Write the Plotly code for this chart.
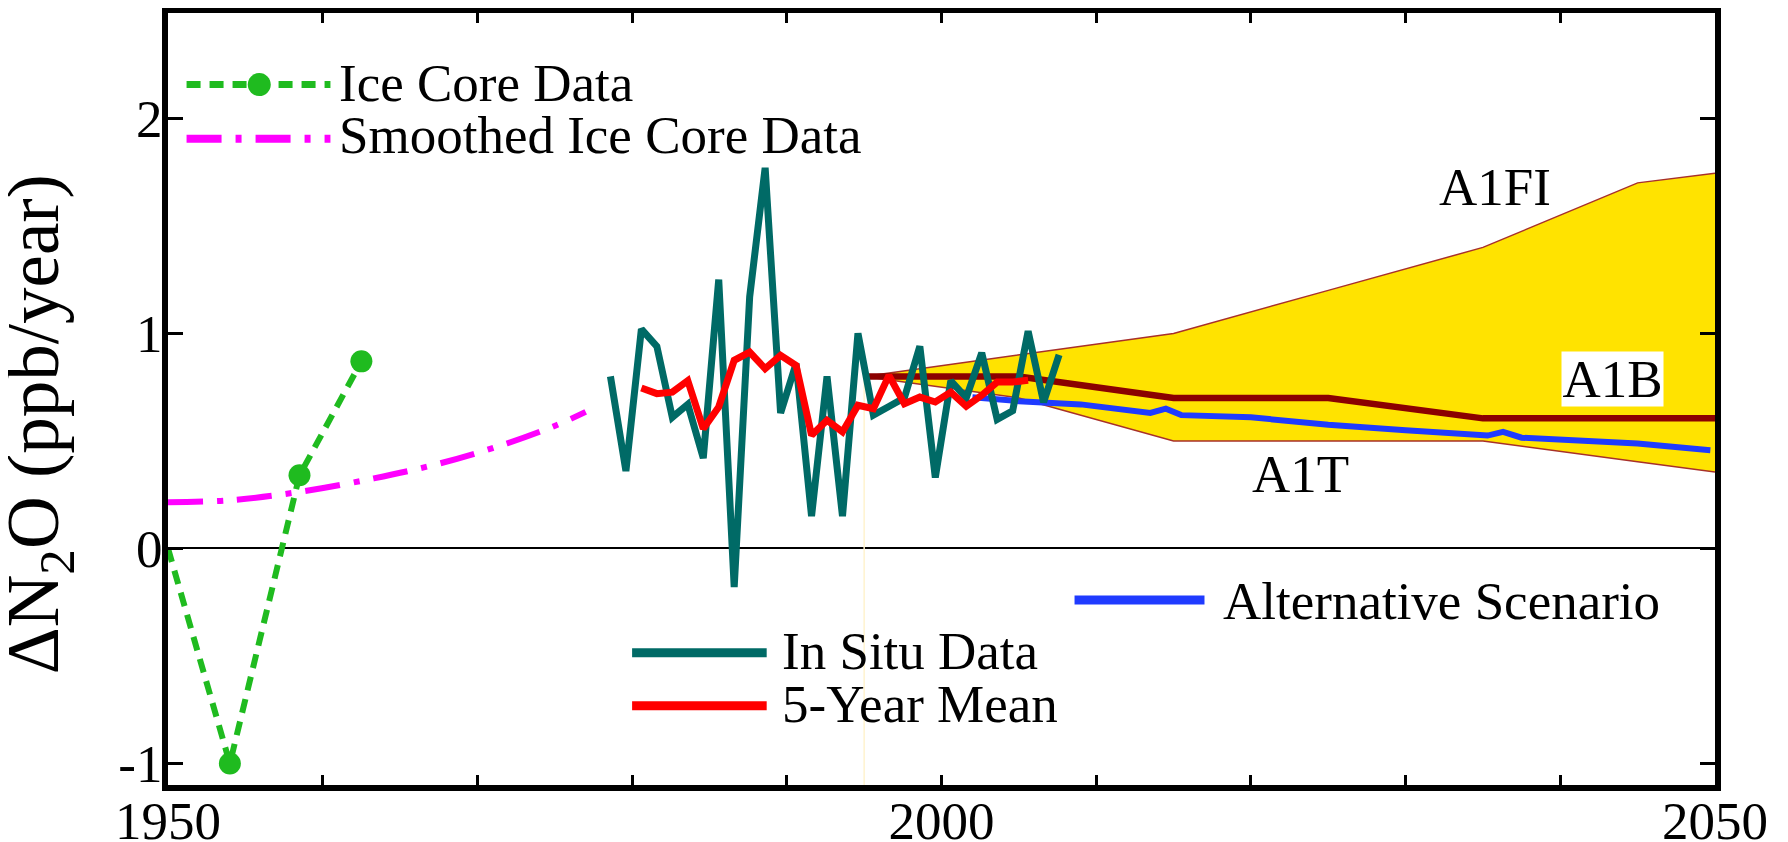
import plotly.graph_objects as go

# ---------------- data ----------------
ice_years = [1950.0, 1954.0, 1958.5, 1962.5]
ice_vals = [0.0, -1.0, 0.34, 0.87]
ice_marker_sizes = [0, 22, 22, 22]

smooth_years = [1950.0, 1954.0, 1958.5, 1963.3, 1967.6, 1971.9, 1975.1, 1977.0]
smooth_vals = [0.215, 0.224, 0.263, 0.326, 0.396, 0.488, 0.573, 0.635]

insitu_years = [1978.6 + i for i in range(30)]
insitu_vals = [0.80, 0.36, 1.02, 0.94, 0.61, 0.67, 0.42, 1.25, -0.18, 1.17,
               1.77, 0.63, 0.86, 0.15, 0.80, 0.15, 1.00, 0.62, 0.66, 0.70,
               0.94, 0.33, 0.78, 0.70, 0.91, 0.60, 0.64, 1.01, 0.68, 0.90]

mean_years = [1980.6 + i for i in range(26)]
mean_vals = [0.746, 0.720, 0.727, 0.780, 0.557, 0.658, 0.875, 0.913, 0.836, 0.898,
             0.851, 0.526, 0.596, 0.542, 0.666, 0.650, 0.805, 0.673, 0.704, 0.681,
             0.727, 0.661, 0.712, 0.774, 0.774, 0.782]

scen_years = [1995, 2005, 2015, 2025, 2035, 2045, 2050]
a1fi_vals = [0.80, 0.90, 1.00, 1.20, 1.40, 1.70, 1.745]
a1t_vals = [0.80, 0.70, 0.50, 0.50, 0.50, 0.403, 0.355]
a1b_vals = [0.80, 0.80, 0.70, 0.70, 0.605, 0.605, 0.605]

alt_years = [2002.0, 2005.0, 2009.0, 2013.5, 2014.5, 2015.5, 2020.0, 2025.0,
             2030.0, 2035.3, 2036.3, 2037.5, 2045.0, 2049.7]
alt_vals = [0.703, 0.685, 0.670, 0.630, 0.650, 0.620, 0.610, 0.575,
            0.550, 0.525, 0.542, 0.515, 0.488, 0.457]

x_major_ticks = [1950, 2000, 2050]
x_major_text = ["1950", "2000", "2050"]
x_minor_ticks = list(range(1950, 2051, 10))
y_tickvals = [-1, 0, 1, 2]
y_ticktext = ["-1", "0", "1", "2"]

X_RANGE = [1950, 2050]
Y_RANGE = [-1.1, 2.49]

# ---------------- style ----------------
FONT = "Liberation Serif"
FS = 53
GREEN = "#1fbb1f"
MAGENTA = "#ff00ff"
TEAL = "#006a66"
RED = "#ff0000"
DARKRED = "#8b0000"
YELLOW = "#ffe300"
EDGE = "#a8302a"
BLUE = "#1f3bff"

fig = go.Figure()

# faint edge line at the start of the scenario band
fig.add_trace(go.Scatter(x=[scen_years[0], scen_years[0]], y=[Y_RANGE[0], a1t_vals[0]],
                         mode="lines", line=dict(color="#fff3cf", width=1.5),
                         hoverinfo="skip", showlegend=False))

# scenario band (A1T lower, A1FI upper)
fig.add_trace(go.Scatter(x=scen_years, y=a1t_vals, name="A1T", mode="lines",
                         line=dict(color=EDGE, width=1.5), showlegend=False))
fig.add_trace(go.Scatter(x=scen_years, y=a1fi_vals, name="A1FI", mode="lines",
                         line=dict(color=EDGE, width=1.5), fill="tonexty",
                         fillcolor=YELLOW, showlegend=False))
fig.add_trace(go.Scatter(x=scen_years, y=a1b_vals, name="A1B", mode="lines",
                         line=dict(color=DARKRED, width=6.5), showlegend=False))
fig.add_trace(go.Scatter(x=alt_years, y=alt_vals, name="Alternative Scenario", mode="lines",
                         line=dict(color=BLUE, width=6), showlegend=False))

# ice core
fig.add_trace(go.Scatter(x=smooth_years, y=smooth_vals, name="Smoothed Ice Core Data",
                         mode="lines", line=dict(color=MAGENTA, width=6, shape="spline",
                                                 dash="35px,14px,6px,14px"),
                         showlegend=False))
fig.add_trace(go.Scatter(x=ice_years, y=ice_vals, name="Ice Core Data", mode="lines+markers",
                         line=dict(color=GREEN, width=6, dash="14px,9px"),
                         marker=dict(color=GREEN, size=ice_marker_sizes, symbol="circle",
                                     opacity=1, line=dict(width=0)),
                         showlegend=False))

# in situ
fig.add_trace(go.Scatter(x=insitu_years, y=insitu_vals, name="In Situ Data", mode="lines",
                         line=dict(color=TEAL, width=7), showlegend=False))
fig.add_trace(go.Scatter(x=mean_years, y=mean_vals, name="5-Year Mean", mode="lines",
                         line=dict(color=RED, width=7), showlegend=False))

# ---------------- manual legend ----------------
shapes = []
annotations = []

def key_line(x0, x1, y, color, width, dash="solid"):
    shapes.append(dict(type="line", xref="x", yref="y", x0=x0, x1=x1, y0=y, y1=y,
                       line=dict(color=color, width=width, dash=dash)))

def label(x, y, text, xanchor="left", bg=None, w=None):
    a = dict(x=x, y=y, xref="x", yref="y", text=text, showarrow=False,
             xanchor=xanchor, yanchor="middle", height=50, borderpad=0,
             font=dict(family=FONT, size=FS, color="black"))
    if bg:
        a["bgcolor"] = bg
        a["height"] = 54
    if w:
        a["width"] = w
    annotations.append(a)

key_line(1951.2, 1960.5, 2.157, GREEN, 7, "14px,9px")
shapes.append(dict(type="circle", xref="x", yref="y", xsizemode="pixel", ysizemode="pixel",
                   xanchor=1955.9, yanchor=2.157, x0=-11.5, x1=11.5, y0=-11.5, y1=11.5,
                   fillcolor=GREEN, line=dict(width=0)))
label(1961.0, 2.163, "Ice Core Data")
key_line(1951.2, 1960.5, 1.905, MAGENTA, 8, "35px,14px,6px,14px")
label(1961.0, 1.922, "Smoothed Ice Core Data")

key_line(1980.0, 1988.7, -0.485, TEAL, 9)
label(1989.65, -0.477, "In Situ Data")
key_line(1980.0, 1988.7, -0.732, RED, 9)
label(1989.65, -0.723, "5-Year Mean")

key_line(2008.6, 2017.0, -0.24, BLUE, 9)
label(2018.1, -0.244, "Alternative Scenario")

# scenario labels
label(2035.8, 1.683, "A1FI", xanchor="center")
label(2043.4, 0.786, "A1B", xanchor="center", bg="white", w=101)
label(2023.2, 0.345, "A1T", xanchor="center")

# y-axis title
annotations.append(dict(x=-0.0835, y=0.467, xref="paper", yref="paper",
                        text="ΔN<sub>2</sub>O (ppb/year)", textangle=-90, showarrow=False,
                        xanchor="center", yanchor="middle",
                        font=dict(family=FONT, size=73, color="black")))

# page body adds an 8px margin, so the figure is 8px smaller than the window
fig.update_layout(
    width=1780, height=834,
    margin=dict(l=160, r=73, t=5, b=57, autoexpand=False),
    paper_bgcolor="white", plot_bgcolor="white",
    font=dict(family=FONT, size=FS, color="black"),
    shapes=shapes, annotations=annotations, showlegend=False,
)
fig.update_xaxes(range=X_RANGE, tickmode="array", tickvals=x_major_ticks, ticktext=x_major_text,
                 ticks="inside", ticklen=10, tickwidth=2.5, tickcolor="black",
                 minor=dict(tickmode="array", tickvals=x_minor_ticks, ticks="inside",
                            ticklen=10, tickwidth=2.5, tickcolor="black", showgrid=False),
                 showline=True, linewidth=6, linecolor="black", mirror="ticks",
                 showgrid=False, zeroline=False, automargin=False, ticklabelstandoff=-16,
                 tickfont=dict(family=FONT, size=FS))
fig.update_yaxes(range=Y_RANGE, tickmode="array", tickvals=y_tickvals, ticktext=y_ticktext,
                 ticks="inside", ticklen=15, tickwidth=3, tickcolor="black",
                 showline=True, linewidth=6, linecolor="black", mirror="ticks",
                 showgrid=False, zeroline=True, zerolinecolor="black", zerolinewidth=1.8,
                 automargin=False, ticklabelstandoff=-11,
                 tickfont=dict(family=FONT, size=FS))

fig.write_html("out.html")
